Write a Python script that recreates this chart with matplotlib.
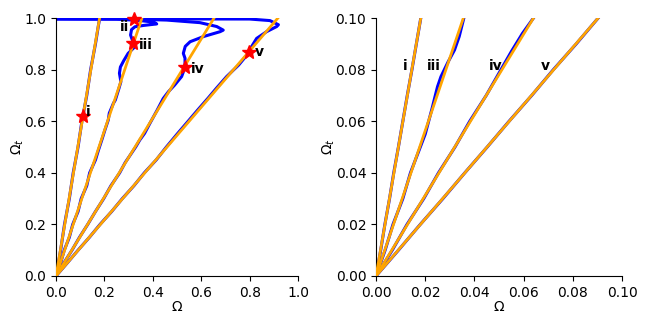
import matplotlib
matplotlib.use("Agg")
import matplotlib.pyplot as plt

# ---------------- data: left panel ----------------
orange_top_left = [0.180, 0.355, 0.653, 0.917]   # Omega where straight fits reach Omega_t = 1

blue_i_x = [0, 0.019, 0.035, 0.055, 0.071, 0.091, 0.107, 0.127, 0.143, 0.163, 0.175, 0.180, 0.0]
blue_i_y = [0, 0.10, 0.20, 0.30, 0.40, 0.50, 0.60, 0.70, 0.80, 0.90, 0.97, 0.997, 0.997]

blue_iii_x = [0, 0.019, 0.034, 0.055, 0.069, 0.091, 0.104, 0.127, 0.139, 0.163, 0.176, 0.189,
              0.202, 0.216, 0.220, 0.237, 0.245, 0.258, 0.268, 0.262, 0.266, 0.280, 0.298,
              0.322, 0.320, 0.308, 0.312, 0.326, 0.360, 0.416, 0.405, 0.347, 0.250, 0.0]
blue_iii_y = [0, 0.05, 0.10, 0.15, 0.20, 0.25, 0.30, 0.35, 0.40, 0.45, 0.49, 0.527,
              0.566, 0.605, 0.631, 0.669, 0.682, 0.721, 0.753, 0.786, 0.810, 0.835, 0.863,
              0.885, 0.902, 0.934, 0.955, 0.966, 0.971, 0.977, 0.984, 0.990, 0.996, 0.997]

blue_iv_x = [0, 0.032, 0.066, 0.097, 0.131, 0.163, 0.197, 0.227, 0.263, 0.286, 0.329, 0.346,
             0.366, 0.388, 0.418, 0.443, 0.465, 0.490, 0.519, 0.533, 0.533, 0.526, 0.534,
             0.554, 0.609, 0.678, 0.691, 0.664, 0.595, 0.457, 0.300, 0.0]
blue_iv_y = [0, 0.05, 0.10, 0.15, 0.20, 0.25, 0.30, 0.35, 0.40, 0.44, 0.50, 0.527,
             0.553, 0.592, 0.643, 0.688, 0.715, 0.740, 0.773, 0.809, 0.844, 0.863, 0.890,
             0.908, 0.928, 0.947, 0.953, 0.967, 0.982, 0.992, 0.996, 0.997]

blue_v_x = [0, 0.046, 0.091, 0.138, 0.182, 0.230, 0.274, 0.322, 0.365, 0.414, 0.456, 0.503,
            0.546, 0.585, 0.627, 0.663, 0.705, 0.755, 0.798, 0.808, 0.829, 0.870, 0.912,
            0.919, 0.884, 0.800, 0.0]
blue_v_y = [0, 0.05, 0.10, 0.15, 0.20, 0.25, 0.30, 0.35, 0.40, 0.45, 0.50, 0.553,
            0.60, 0.643, 0.688, 0.728, 0.773, 0.818, 0.867, 0.889, 0.921, 0.947, 0.967,
            0.974, 0.990, 0.996, 0.997]

star_x = [0.112, 0.322, 0.320, 0.533, 0.798]
star_y = [0.620, 0.997, 0.902, 0.809, 0.867]
star_labels = ["i", "ii", "iii", "iv", "v"]
star_label_x = [0.125, 0.262, 0.343, 0.558, 0.822]
star_label_y = [0.636, 0.965, 0.895, 0.802, 0.868]

# ---------------- data: right panel ----------------
orange_top_right = [0.0182, 0.0355, 0.0640, 0.0903]

rblue_i_x = [0, 0.0019, 0.0036, 0.0055, 0.0072, 0.0091, 0.0109, 0.0127, 0.0146, 0.0164, 0.0182]
rblue_i_y = [0, 0.01, 0.02, 0.03, 0.04, 0.05, 0.06, 0.07, 0.08, 0.09, 0.10]

rblue_iii_x = [0, 0.0037, 0.0069, 0.0109, 0.0140, 0.0180, 0.0200, 0.0214, 0.0228, 0.0241,
               0.0250, 0.0264, 0.0293, 0.0319, 0.0338, 0.0357]
rblue_iii_y = [0, 0.010, 0.020, 0.030, 0.040, 0.050, 0.055, 0.060, 0.065, 0.070,
               0.0734, 0.0773, 0.083, 0.0876, 0.0928, 0.100]

rblue_iv_x = [0, 0.0066, 0.0126, 0.0194, 0.0254, 0.0321, 0.0381, 0.0448, 0.0508, 0.0550, 0.0595, 0.0640]
rblue_iv_y = [0, 0.010, 0.020, 0.030, 0.040, 0.050, 0.060, 0.070, 0.080, 0.087, 0.094, 0.100]

rblue_v_x = [0, 0.0091, 0.0180, 0.0272, 0.0361, 0.0452, 0.0541, 0.0633, 0.0721, 0.0814, 0.0903]
rblue_v_y = [0, 0.01, 0.02, 0.03, 0.04, 0.05, 0.06, 0.07, 0.08, 0.09, 0.10]

right_labels = ["i", "iii", "iv", "v"]
right_label_x = [0.0118, 0.0236, 0.0488, 0.0687]
right_label_y = [0.0814, 0.0814, 0.0814, 0.0814]

left_ticks = [0.0, 0.2, 0.4, 0.6, 0.8, 1.0]
right_ticks = [0.00, 0.02, 0.04, 0.06, 0.08, 0.10]

# ---------------- plotting ----------------
fig = plt.figure(figsize=(6.5, 3.25), dpi=100)
axL = fig.add_axes([0.0862, 0.1508, 0.3723, 0.7938])
axR = fig.add_axes([0.5785, 0.1508, 0.3785, 0.7938])

BLUE = "#0000ff"
ORANGE = "#ffa500"

for ax in (axL, axR):
    ax.spines["top"].set_visible(False)
    ax.spines["right"].set_visible(False)
    ax.set_xlabel("Ω", fontsize=10, labelpad=0)
    ax.set_ylabel("Ω$_t$", fontsize=10, labelpad=-1)
    ax.tick_params(labelsize=10)

# Left panel
for bx, by in [(blue_i_x, blue_i_y), (blue_iii_x, blue_iii_y),
               (blue_iv_x, blue_iv_y), (blue_v_x, blue_v_y)]:
    axL.plot(bx, by, color=BLUE, lw=2.2, zorder=2, solid_joinstyle="round")
for xt in orange_top_left:
    axL.plot([0, xt], [0, 1.0], color=ORANGE, lw=2.0, zorder=3)
axL.plot(star_x, star_y, linestyle="none", marker="*", color="red",
         markersize=10, zorder=5, clip_on=False)
for lx, ly, lab in zip(star_label_x, star_label_y, star_labels):
    axL.text(lx, ly, lab, fontsize=10, fontweight="bold", ha="left", va="center", zorder=6)
axL.set_xlim(0, 1)
axL.set_ylim(0, 1)
axL.set_xticks(left_ticks)
axL.set_yticks(left_ticks)
axL.set_xticklabels([f"{t:.1f}" for t in left_ticks])
axL.set_yticklabels([f"{t:.1f}" for t in left_ticks])

# Right panel
for bx, by in [(rblue_i_x, rblue_i_y), (rblue_iii_x, rblue_iii_y),
               (rblue_iv_x, rblue_iv_y), (rblue_v_x, rblue_v_y)]:
    axR.plot(bx, by, color=BLUE, lw=2.2, zorder=2, solid_joinstyle="round")
for xt in orange_top_right:
    axR.plot([0, xt], [0, 0.1], color=ORANGE, lw=2.0, zorder=3)
for lx, ly, lab in zip(right_label_x, right_label_y, right_labels):
    axR.text(lx, ly, lab, fontsize=10, fontweight="bold", ha="center", va="center", zorder=6)
axR.set_xlim(0, 0.1)
axR.set_ylim(0, 0.1)
axR.set_xticks(right_ticks)
axR.set_yticks(right_ticks)
axR.set_xticklabels([f"{t:.2f}" for t in right_ticks])
axR.set_yticklabels([f"{t:.2f}" for t in right_ticks])

fig.savefig("out.png", dpi=100)
